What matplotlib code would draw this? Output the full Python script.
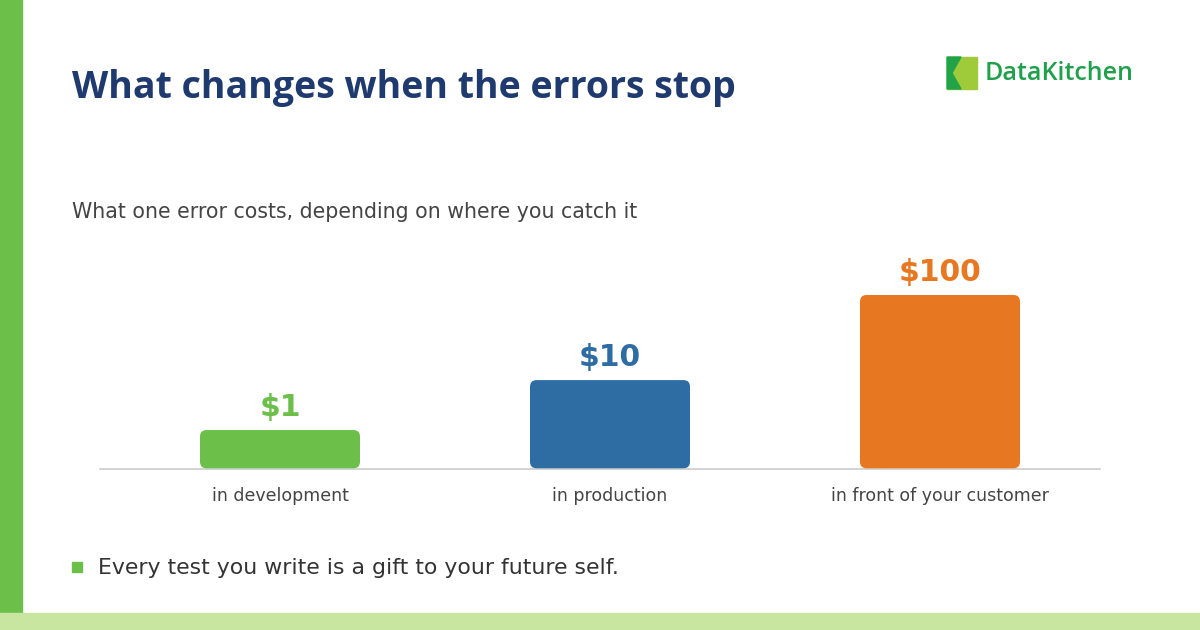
import matplotlib.pyplot as plt
from matplotlib.patches import FancyBboxPatch, Rectangle, Polygon

plt.rcParams['font.family'] = ['Open Sans', 'DejaVu Sans']

# data
stages = ['in development', 'in production', 'in front of your customer']
costs = [1, 10, 100]
bar_heights = [0.224, 0.511, 1.0]  # drawn bar length relative to the tallest bar
bar_colors = ['#6cc04a', '#2e6da4', '#e87722']

W, H = 1200, 630
body = ['DejaVu Sans']
fig = plt.figure(figsize=(W / 100, H / 100), dpi=100)
fig.patch.set_facecolor('white')

# frame decorations
fig.patches.append(Rectangle((0, 17 / H), 22 / W, 1, transform=fig.transFigure,
                             color='#6cc04a', zorder=0))
fig.patches.append(Rectangle((0, 0), 1, 17 / H, transform=fig.transFigure,
                             color='#c8e6a0', zorder=0))

# titles
fig.text(72 / W, 1 - 88 / H, 'What changes when the errors stop', fontsize=27,
         fontweight='bold', color='#1f3a6e', va='center', ha='left')
fig.text(72 / W, 1 - 212 / H, 'What one error costs, depending on where you catch it',
         fontsize=14.8, color='#444444', va='center', ha='left', family=body)

# logo
ix, iy = 947 / W, 1 - 89 / H
fig.patches.append(Rectangle((ix, iy), 30 / W, 32 / H, transform=fig.transFigure,
                             color='#9fcb3b', zorder=2))
fig.patches.append(Polygon([(ix, iy), (ix, iy + 32 / H), (ix + 14 / W, iy + 32 / H),
                            (ix + 5 / W, iy + 16 / H), (ix + 14 / W, iy)],
                           closed=True, transform=fig.transFigure, color='#23a348', zorder=3))
fig.text(985 / W, 1 - 73 / H, 'DataKitchen', fontsize=18, fontweight='semibold',
         color='#1fa04a', va='center', ha='left')

# chart area: baseline at y=469 px, x from 100 to 1100 px
base_px = 469
ax = fig.add_axes([100 / W, (H - base_px) / H, 1000 / W, 200 / H])
ax.set_xlim(-180 / 330, 2 + 160 / 330)
ax.set_ylim(0, 200 / 174)
ax.set_facecolor('none')
for s in ['top', 'right', 'left']:
    ax.spines[s].set_visible(False)
ax.spines['bottom'].set_color('#cccccc')
ax.spines['bottom'].set_linewidth(1.2)
ax.set_yticks([])

x = list(range(len(stages)))
bw = 160 / 330
aspect = (1 / 174) / (1 / 330)
for xi, h, c, v in zip(x, bar_heights, bar_colors, costs):
    ax.add_patch(FancyBboxPatch((xi - bw / 2, 0.004), bw, h - 0.004,
                                boxstyle='round,pad=0,rounding_size=0.02',
                                mutation_aspect=aspect, color=c, zorder=3,
                                linewidth=0))
    ax.annotate(f'${v}', (xi, h), xytext=(0, 6), textcoords='offset points',
                ha='center', va='bottom', fontsize=21.5, fontweight='bold', color=c,
                family=body)

ax.set_xticks(x)
ax.set_xticklabels(stages, fontsize=12.5, color='#444444', family=body)
ax.tick_params(axis='x', length=0, pad=13)

# footnote
fig.patches.append(Rectangle((72 / W, 1 - 572 / H), 10 / W, 10 / H,
                             transform=fig.transFigure, color='#6cc04a'))
fig.text(98 / W, 1 - 568 / H, 'Every test you write is a gift to your future self.',
         fontsize=15.8, color='#333333', va='center', ha='left', family=body)

fig.savefig('out.png', dpi=100)
